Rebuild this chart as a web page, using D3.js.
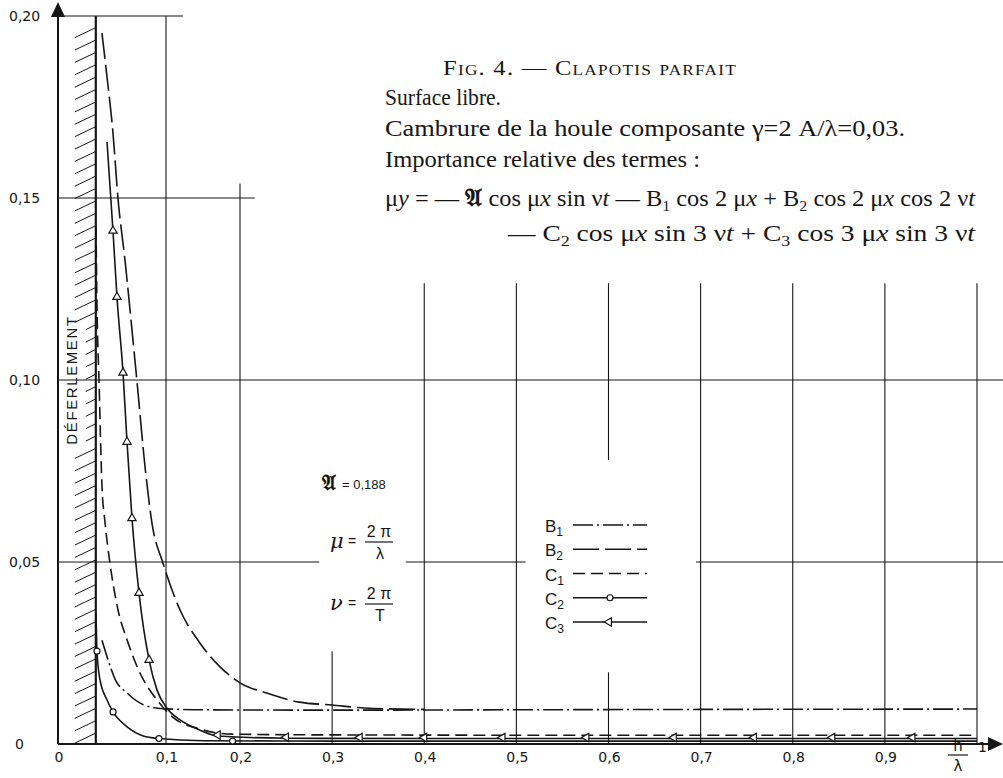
<!DOCTYPE html>
<html>
<head>
<meta charset="utf-8">
<script src="https://cdn.jsdelivr.net/npm/d3@7"></script>
<style>
  body { margin: 0; background: #fff; }
  svg { display: block; }
</style>
</head>
<body>
<svg id="chart" width="1003" height="778"></svg>
<script>
// ---- data (h/lambda , relative amplitude) ----
const yTicks = [0, 0.05, 0.10, 0.15, 0.20];
const xTicks = [0, 0.1, 0.2, 0.3, 0.4, 0.5, 0.6, 0.7, 0.8, 0.9];
const xLast = 1;
const breakLimit = 0.035; // deferlement

const legendKeys = ["B1", "B2", "C1", "C2", "C3"];

const b1 = [[0.0407, 0.0285], [0.0454, 0.024], [0.053, 0.0177], [0.064, 0.014], [0.079, 0.0108],
  [0.097, 0.0097], [0.15, 0.0094], [0.3, 0.0093], [0.5, 0.0094], [0.7, 0.0095], [1.0, 0.0096]];
const b2 = [[0.0407, 0.1953], [0.0454, 0.1832], [0.0509, 0.1679], [0.0556, 0.1497], [0.062, 0.133],
  [0.0694, 0.111], [0.0731, 0.0997], [0.0806, 0.0761], [0.087, 0.0607], [0.0972, 0.0497],
  [0.119, 0.0368], [0.146, 0.0277], [0.173, 0.0212], [0.2, 0.0168], [0.229, 0.014],
  [0.2645, 0.0115], [0.3, 0.0107], [0.335, 0.0099], [0.4, 0.0095]];
const c1 = [[0.0352, 0.142], [0.036, 0.122], [0.038, 0.0997], [0.0407, 0.071], [0.0435, 0.061],
  [0.0481, 0.0497], [0.0556, 0.0368], [0.064, 0.0286], [0.0759, 0.0195], [0.0917, 0.0121],
  [0.109, 0.0074], [0.146, 0.0041], [0.19, 0.0027], [0.3, 0.0025], [0.6, 0.0024], [1.0, 0.0024]];
const c2 = [[0.0352, 0.036], [0.0361, 0.0255], [0.0389, 0.0176], [0.0454, 0.0121], [0.051, 0.0088],
  [0.064, 0.0047], [0.079, 0.0022], [0.0935, 0.0015], [0.15, 0.0009], [0.3, 0.0008],
  [0.6, 0.0008], [1.0, 0.0008]];
const c2Marks = [[0.0361, 0.0255], [0.051, 0.0088], [0.0935, 0.0015], [0.19, 0.0008]];
const c3 = [[0.0454, 0.1654], [0.0509, 0.141], [0.0546, 0.1228], [0.0602, 0.102], [0.0639, 0.083],
  [0.0685, 0.062], [0.075, 0.0415], [0.0843, 0.0231], [0.0917, 0.0148], [0.101, 0.0099],
  [0.119, 0.0066], [0.146, 0.0038], [0.17, 0.0022], [0.25, 0.0016], [0.4, 0.0015],
  [0.6, 0.0015], [0.8, 0.0015], [1.0, 0.0015]];
const c3Marks = [[0.0509, 0.141], [0.0546, 0.1228], [0.0602, 0.102], [0.0639, 0.083], [0.0685, 0.062],
  [0.075, 0.0415], [0.0843, 0.0231], [0.17, 0.0022], [0.25, 0.0016], [0.33, 0.0015], [0.40, 0.0015],
  [0.485, 0.0015], [0.576, 0.0015], [0.671, 0.0015], [0.758, 0.0015], [0.843, 0.0015], [0.93, 0.0015]];

// grid pieces of the original drawing (value, from, to)
const hGrid = [[0.20, 0, 0.123], [0.15, 0, 0.216], [0.10, 0, 1.03],
  [0.05, 0, 0.286], [0.05, 0.38, 0.51], [0.05, 0.695, 1.03]];
const vGrid = [[0.1, 0, 0.2], [0.2, 0, 0.154], [0.3, 0, 0.0255], [0.4, 0, 0.1266], [0.5, 0, 0.1266],
  [0.6, 0, 0.0197], [0.6, 0.078, 0.1266], [0.7, 0, 0.1266], [0.8, 0, 0.1266], [0.9, 0, 0.1266],
  [1.0, 0, 0.1266]];

// ---- drawing ----
const ink = "#161616";
let svg = d3.select("#chart");

// the printed x axis is stretched near the origin
let x = d3.scaleLinear().domain([0, 0.1, 0.2, 1]).range([58, 166, 240, 977]);
let y = d3.scaleLinear().domain([0, 0.2]).range([744, 16]);

let grid = svg.append("g").attr("stroke", ink).attr("stroke-width", 1.1);
grid.selectAll(".hg").data(hGrid).enter().append("line")
  .attr("class", "hg")
  .attr("x1", d => x(d[1])).attr("x2", d => x(d[2]))
  .attr("y1", d => y(d[0])).attr("y2", d => y(d[0]));
grid.selectAll(".vg").data(vGrid).enter().append("line")
  .attr("class", "vg")
  .attr("x1", d => x(d[0])).attr("x2", d => x(d[0]))
  .attr("y1", d => y(d[1])).attr("y2", d => y(d[2]));

// hatched breaking zone (hatches shortened where the label sits)
let label = [0.082, 0.118];
let inLabel = d => d > label[0] && d < label[1];
let hatch = svg.append("g").attr("stroke", ink).attr("stroke-width", 1);
hatch.selectAll("line").data(d3.range(0.003, 0.197, 0.0034)).enter().append("line")
  .attr("x1", d => x(breakLimit) - (inLabel(d) ? 10 : 21)).attr("x2", x(breakLimit))
  .attr("y1", d => y(d) + (inLabel(d) ? 5 : 10)).attr("y2", d => y(d));
svg.append("line")
  .attr("x1", x(breakLimit)).attr("x2", x(breakLimit))
  .attr("y1", y(0)).attr("y2", y(0.2))
  .attr("stroke", ink).attr("stroke-width", 2.2);
svg.append("text")
  .attr("transform", "translate(" + (x(breakLimit) - 19) + "," + y(0.1) + ") rotate(-90)")
  .attr("text-anchor", "middle")
  .attr("font-family", "'Liberation Sans', Arial, sans-serif")
  .attr("font-size", 15).attr("letter-spacing", 1.6).attr("fill", ink)
  .text("DÉFERLEMENT");

// axes
svg.append("line").attr("x1", x(0)).attr("x2", x(0)).attr("y1", y(0)).attr("y2", 10)
  .attr("stroke", ink).attr("stroke-width", 2);
svg.append("line").attr("x1", x(0)).attr("x2", 995).attr("y1", y(0)).attr("y2", y(0))
  .attr("stroke", ink).attr("stroke-width", 2);
svg.append("path").attr("fill", ink)
  .attr("d", "M" + x(0) + ",2 L" + (x(0) - 7) + ",17 L" + (x(0) + 7) + ",17 Z");
svg.append("path").attr("fill", ink)
  .attr("d", "M1003," + y(0) + " L988," + (y(0) - 7) + " L988," + (y(0) + 7) + " Z");

let tickFont = "'DejaVu Sans', sans-serif";
svg.selectAll(".ylab").data(yTicks).enter().append("text")
  .attr("class", "ylab")
  .attr("x", d => d === 0 ? 15 : 9).attr("y", d => y(d) + 5)
  .attr("font-family", tickFont).attr("font-size", 14).attr("fill", ink)
  .text(d => d === 0 ? "0" : d3.format(".2f")(d).replace(".", ","));
svg.selectAll(".xlab").data(xTicks).enter().append("text")
  .attr("class", "xlab")
  .attr("x", d => x(d) + 1).attr("y", y(0) + 18)
  .attr("text-anchor", "middle")
  .attr("font-family", tickFont).attr("font-size", 14).attr("fill", ink)
  .text(d => d === 0 ? "0" : d3.format(".1f")(d).replace(".", ","));
svg.append("text").attr("x", x(xLast) + 1).attr("y", y(0) + 8)
  .attr("font-family", tickFont).attr("font-size", 14).attr("fill", ink).text(String(xLast));
// h / lambda
svg.append("text").attr("x", x(xLast) - 19).attr("y", y(0) + 7).attr("text-anchor", "middle")
  .attr("font-family", tickFont).attr("font-size", 15).attr("fill", ink).text("h");
svg.append("line").attr("x1", x(xLast) - 29).attr("x2", x(xLast) - 9)
  .attr("y1", y(0) + 11).attr("y2", y(0) + 11).attr("stroke", ink).attr("stroke-width", 1.2);
svg.append("text").attr("x", x(xLast) - 19).attr("y", y(0) + 27).attr("text-anchor", "middle")
  .attr("font-family", tickFont).attr("font-size", 15).attr("fill", ink).text("λ");

// curves
let styles = {
  B1: "20,4,2,4",
  B2: "26,6",
  C1: "12,6",
  C2: null,
  C3: null
};
let series = { B1: b1, B2: b2, C1: c1, C2: c2, C3: c3 };
let line = d3.line().x(d => x(d[0])).y(d => y(d[1])).curve(d3.curveMonotoneX);
let curves = svg.append("g").attr("fill", "none").attr("stroke", ink).attr("stroke-width", 1.6);
legendKeys.forEach(function (k) {
  curves.append("path").attr("d", line(series[k]))
    .attr("stroke-dasharray", styles[k]);
});

let tri = d3.symbol(d3.symbolTriangle, 30);
let marks = svg.append("g").attr("fill", "#fff").attr("stroke", ink).attr("stroke-width", 1.2);
marks.selectAll("circle").data(c2Marks).enter().append("circle")
  .attr("cx", d => x(d[0])).attr("cy", d => y(d[1])).attr("r", 3);
marks.selectAll("path").data(c3Marks).enter().append("path")
  .attr("d", tri)
  .attr("transform", d => "translate(" + x(d[0]) + "," + (y(d[1]) + (d[1] > 0.01 ? 0 : -1)) + ")" +
    (d[1] > 0.01 ? "" : " rotate(-90)"));

// legend
let legY = d3.scalePoint().domain(legendKeys).range([525, 622]);
let leg = svg.append("g").attr("font-family", "'Liberation Sans', Arial, sans-serif").attr("fill", ink);
legendKeys.forEach(function (k) {
  let t = leg.append("text").attr("x", 545).attr("y", legY(k) + 7).attr("font-size", 17);
  t.append("tspan").text(k[0]);
  t.append("tspan").attr("dy", 4).attr("font-size", 12).text(k[1]);
  leg.append("line").attr("x1", 573).attr("x2", 647).attr("y1", legY(k)).attr("y2", legY(k))
    .attr("stroke", ink).attr("stroke-width", 1.6).attr("stroke-dasharray", styles[k]);
});
leg.append("circle").attr("cx", 610).attr("cy", legY("C2")).attr("r", 3)
  .attr("fill", "#fff").attr("stroke", ink).attr("stroke-width", 1.2);
leg.append("path").attr("d", tri).attr("transform", "translate(609," + legY("C3") + ") rotate(-90)")
  .attr("fill", "#fff").attr("stroke", ink).attr("stroke-width", 1.2);

// constants panel
let sans = "'Liberation Sans', Arial, sans-serif";
let serif = "'DejaVu Serif', 'Liberation Serif', serif";
svg.append("text").attr("x", 322).attr("y", 490).attr("font-family", serif)
  .attr("font-size", 21).attr("font-weight", "bold").attr("fill", ink).text("𝔄");
svg.append("text").attr("x", 342).attr("y", 489).attr("font-family", sans)
  .attr("font-size", 13).attr("fill", ink).text("= 0,188");

function fraction(sym, top, bottom, by) {
  svg.append("text").attr("x", 330).attr("y", by).attr("font-family", serif)
    .attr("font-style", "italic").attr("font-size", 21).attr("fill", ink).text(sym);
  svg.append("text").attr("x", 348).attr("y", by - 2).attr("font-family", sans)
    .attr("font-size", 14).attr("fill", ink).text("=");
  svg.append("text").attr("x", 379).attr("y", by - 11).attr("text-anchor", "middle")
    .attr("font-family", sans).attr("font-size", 16).attr("fill", ink).text(top);
  svg.append("line").attr("x1", 365).attr("x2", 393).attr("y1", by - 6).attr("y2", by - 6)
    .attr("stroke", ink).attr("stroke-width", 1.2);
  svg.append("text").attr("x", 380).attr("y", by + 11).attr("text-anchor", "middle")
    .attr("font-family", sans).attr("font-size", 16).attr("fill", ink).text(bottom);
}
fraction("μ", "2 π", "λ", 548);
fraction("ν", "2 π", "T", 610);

// title block
let tfont = "'Liberation Serif', 'DejaVu Serif', serif";
svg.append("text").attr("x", 443).attr("y", 75).attr("font-family", tfont).attr("font-size", 20)
  .attr("font-variant", "small-caps").attr("letter-spacing", 1).attr("fill", ink)
  .attr("textLength", 294).attr("lengthAdjust", "spacingAndGlyphs")
  .text("Fig. 4. — Clapotis parfait");
let plain = [["Surface libre.", 105, 116], ["Cambrure de la houle composante γ=2 A/λ=0,03.", 136, 520],
  ["Importance relative des termes :", 167, 315]];
plain.forEach(function (p) {
  svg.append("text").attr("x", 385).attr("y", p[1]).attr("font-family", tfont).attr("font-size", 23)
    .attr("fill", ink).attr("textLength", p[2]).attr("lengthAdjust", "spacingAndGlyphs").text(p[0]);
});

let eq1 = [["μ", ""], ["y", "i"], [" = — ", ""], ["𝔄", "f"], [" cos μ", ""], ["x", "i"], [" sin ν", ""],
  ["t", "i"], [" — B", ""], ["1", "s"], [" cos 2 μ", ""], ["x", "i"], [" + B", ""], ["2", "s"],
  [" cos 2 μ", ""], ["x", "i"], [" cos 2 ν", ""], ["t", "i"]];
let eq2 = [["— C", ""], ["2", "s"], [" cos μ", ""], ["x", "i"], [" sin 3 ν", ""], ["t", "i"],
  [" + C", ""], ["3", "s"], [" cos 3 μ", ""], ["x", "i"], [" sin 3 ν", ""], ["t", "i"]];

function equation(parts, x0, by, width) {
  let t = svg.append("text").attr("x", x0).attr("y", by).attr("font-family", tfont)
    .attr("font-size", 23).attr("fill", ink)
    .attr("textLength", width).attr("lengthAdjust", "spacingAndGlyphs");
  let shift = 0;
  parts.forEach(function (p) {
    let s = t.append("tspan").text(p[0]);
    let dy = 0;
    if (p[1] === "s") { dy = 5 - shift; shift = 5; s.attr("font-size", 15); }
    else { dy = -shift; shift = 0; }
    if (dy) s.attr("dy", dy);
    if (p[1] === "i") s.attr("font-style", "italic");
    if (p[1] === "f") s.attr("font-family", serif).attr("font-weight", "bold").attr("font-size", 24);
  });
}
equation(eq1, 385, 206, 590);
equation(eq2, 508, 241, 467);
</script>
</body>
</html>
